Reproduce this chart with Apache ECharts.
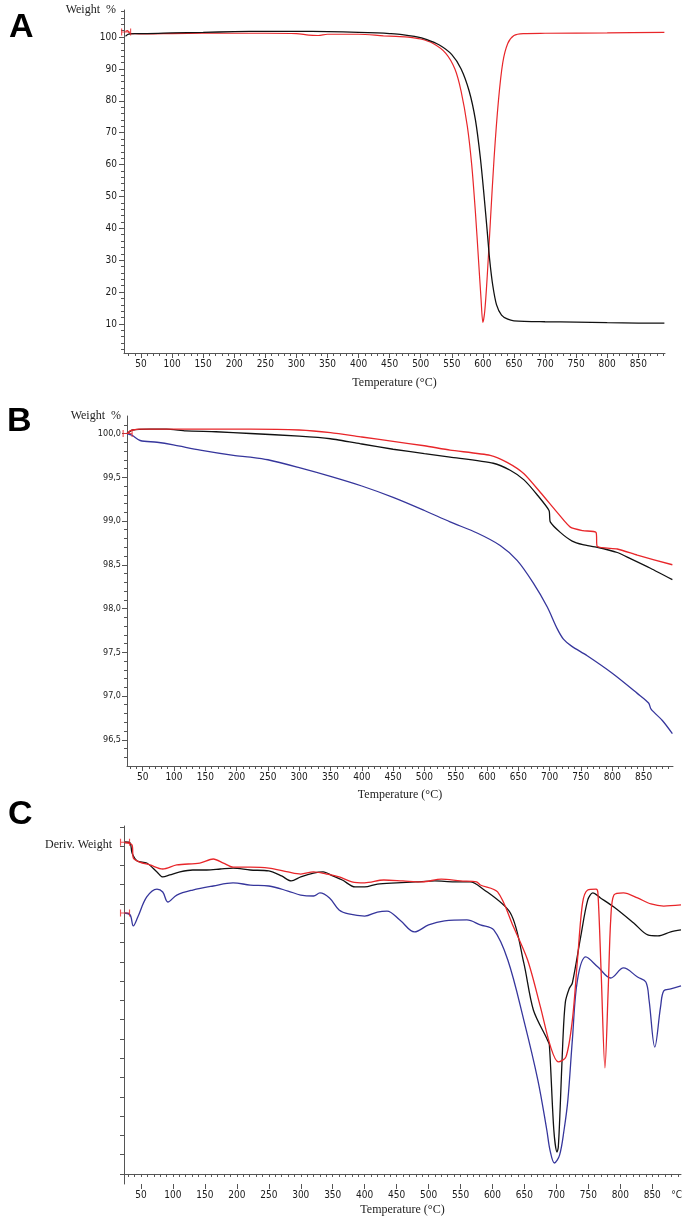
<!DOCTYPE html>
<html>
<head>
<meta charset="utf-8">
<script src="https://cdn.jsdelivr.net/npm/echarts@6/dist/echarts.min.js"></script>
<style>html,body{margin:0;padding:0;background:#fff}#c{width:685px;height:1218px}</style>
</head>
<body>
<div id="c"></div>
<script>
// ---------- Panel A : Weight % vs Temperature ----------
const A_RED_T = [25, 28, 32, 40, 60, 100, 150, 200, 250, 300, 320, 335, 350, 400, 440, 460, 480, 500, 520, 540, 555, 565, 575, 582, 588, 593, 597, 600, 603, 607, 612, 618, 625, 632, 640, 650, 665, 700, 800, 892];
const A_RED_W = [101.8, 102.0, 101.2, 101.1, 101.0, 101.1, 101.2, 101.2, 101.2, 101.1, 100.6, 100.5, 100.9, 100.9, 100.4, 100.2, 100.0, 99.4, 98.0, 95.0, 90.0, 83.0, 72.0, 60.0, 45.0, 30.0, 18.0, 10.5, 14.0, 25.0, 42.0, 62.0, 80.0, 92.0, 98.0, 100.5, 101.1, 101.2, 101.3, 101.5];
const A_BLK_T = [25, 30, 40, 60, 100, 150, 200, 250, 300, 350, 400, 430, 450, 470, 490, 510, 530, 550, 565, 578, 588, 596, 602, 607, 611, 616, 622, 630, 640, 650, 700, 750, 800, 850, 892];
const A_BLK_W = [100.3, 100.9, 101.1, 101.1, 101.3, 101.5, 101.7, 101.8, 101.8, 101.7, 101.5, 101.3, 101.1, 100.8, 100.2, 99.2, 97.5, 94.5, 90.0, 83.0, 74.0, 62.0, 50.0, 39.0, 30.0, 22.0, 16.0, 12.8, 11.5, 11.0, 10.7, 10.6, 10.4, 10.3, 10.3];
const A_MARKS_T = [26];
const A_MARKS_W = [101.6];
const A_Y_LABELS = [10, 20, 30, 40, 50, 60, 70, 80, 90, 100];

// ---------- Panel B : Weight % (zoomed) ----------
const B_RED_T = [25, 30, 34, 45, 70, 100, 150, 222, 300, 350, 400, 450, 500, 541, 605, 632, 659, 686, 713, 733, 753, 774, 776, 808, 840, 896];
const B_RED_W = [100.0, 100.03, 100.04, 100.05, 100.05, 100.05, 100.05, 100.05, 100.04, 100.01, 99.96, 99.91, 99.86, 99.81, 99.75, 99.67, 99.54, 99.32, 99.09, 98.93, 98.89, 98.87, 98.71, 98.68, 98.61, 98.50];
const B_BLK_T = [25, 34, 61, 88, 119, 167, 222, 300, 350, 400, 450, 500, 541, 610, 637, 659, 680, 699, 701, 717, 736, 753, 776, 808, 829, 861, 896];
const B_BLK_W = [100.0, 100.04, 100.05, 100.05, 100.03, 100.02, 100.0, 99.97, 99.94, 99.88, 99.82, 99.77, 99.73, 99.66, 99.58, 99.47, 99.30, 99.12, 98.99, 98.87, 98.77, 98.73, 98.70, 98.64, 98.57, 98.46, 98.33];
const B_BLU_T = [25, 33, 46, 73, 99, 142, 195, 222, 250, 300, 350, 400, 450, 500, 541, 585, 621, 648, 674, 696, 712, 722, 735, 760, 800, 840, 858, 862, 880, 896];
const B_BLU_W = [100.0, 99.98, 99.92, 99.90, 99.87, 99.81, 99.75, 99.73, 99.70, 99.61, 99.51, 99.40, 99.27, 99.12, 98.99, 98.86, 98.72, 98.55, 98.29, 98.02, 97.77, 97.65, 97.57, 97.46, 97.26, 97.03, 96.92, 96.85, 96.72, 96.57];
const B_MARKS_T = [26];
const B_MARKS_W = [100.0];
const B_Y_LABELS = [96.5, 97.0, 97.5, 98.0, 98.5, 99.0, 99.5, 100.0];

// ---------- Panel C : Derivative weight (arbitrary units) ----------
const C_RED_T = [25, 36, 38, 48, 64, 84, 106, 142, 163, 179, 194, 221, 250, 280, 300, 320, 340, 360, 380, 400, 430, 460, 490, 520, 550, 575, 581, 608, 633, 655, 675, 691, 703, 715, 725, 733, 741, 749, 762, 765, 770, 776, 781, 785, 790, 805, 827, 848, 868, 895];
const C_RED_D = [17.16, 17.06, 16.38, 16.17, 16.02, 15.81, 16.02, 16.12, 16.33, 16.12, 15.91, 15.91, 15.86, 15.66, 15.55, 15.66, 15.55, 15.40, 15.14, 15.09, 15.24, 15.19, 15.14, 15.29, 15.19, 15.14, 14.98, 14.62, 12.80, 11.09, 8.66, 6.58, 5.81, 6.07, 7.98, 11.09, 14.05, 14.72, 14.77, 14.57, 10.5, 5.50, 9.5, 13.17, 14.46, 14.57, 14.31, 14.00, 13.89, 13.95];
const C_BLK_T = [25, 33, 36, 44, 59, 75, 84, 95, 111, 131, 153, 174, 194, 221, 250, 270, 285, 300, 320, 335, 350, 365, 385, 400, 420, 450, 480, 510, 540, 565, 581, 628, 649, 664, 686, 689, 696, 701, 703, 706, 710, 714, 720, 725, 738, 749, 757, 769, 790, 821, 843, 859, 879, 895];
const C_BLK_D = [17.21, 17.16, 16.64, 16.23, 16.12, 15.66, 15.40, 15.50, 15.66, 15.76, 15.76, 15.81, 15.86, 15.76, 15.71, 15.45, 15.19, 15.40, 15.60, 15.66, 15.45, 15.24, 14.88, 14.88, 15.03, 15.09, 15.14, 15.19, 15.14, 15.14, 14.88, 13.53, 10.94, 8.50, 6.95, 6.69, 2.28, 1.14, 1.40, 3.50, 6.80, 8.90, 9.60, 9.90, 12.29, 14.20, 14.57, 14.31, 13.84, 13.01, 12.39, 12.34, 12.55, 12.65];
const C_BLU_T = [25, 33, 38, 45, 59, 75, 84, 92, 106, 131, 163, 194, 221, 250, 280, 300, 320, 330, 345, 360, 375, 400, 420, 435, 455, 478, 500, 525, 560, 581, 602, 624, 649, 671, 685, 690, 697, 705, 712, 718, 725, 733, 746, 765, 785, 805, 827, 840, 845, 854, 863, 868, 879, 895];
const C_BLU_D = [13.53, 13.43, 12.86, 13.32, 14.36, 14.77, 14.62, 14.10, 14.46, 14.72, 14.93, 15.09, 14.98, 14.93, 14.67, 14.46, 14.41, 14.57, 14.31, 13.69, 13.48, 13.37, 13.58, 13.63, 13.17, 12.55, 12.91, 13.12, 13.17, 12.91, 12.65, 11.09, 7.98, 4.87, 2.28, 1.24, 0.57, 0.98, 2.28, 3.84, 6.95, 10.06, 11.25, 10.73, 10.16, 10.68, 10.21, 9.95, 9.02, 6.58, 8.66, 9.49, 9.59, 9.75];
const C_MARKS_T = [25, 25];
const C_MARKS_D = [17.2, 13.53];

const X_LABELS = [50, 100, 150, 200, 250, 300, 350, 400, 450, 500, 550, 600, 650, 700, 750, 800, 850];

// ---------- helpers ----------
function zip(t, v) { return t.map((x, i) => [x, v[i]]); }
function range(a, b, s) { const r = []; const n = Math.round((b - a) / s); for (let i = 0; i <= n; i++) r.push(Math.round((a + i * s) * 1000) / 1000); return r; }

const RED = '#e8262a', BLK = '#111111', BLU = '#36369c';
const AX = '#555';
const TICKFONT = { fontFamily: '"DejaVu Sans Condensed","DejaVu Sans",sans-serif', fontSize: 10, color: '#1a1a1a' };
const SERIF = 'Liberation Serif, "Times New Roman", serif';
const MARK = 'path://M0 0V10M0 5H10M10 0V10';

function xMain(grid, min, max, name, gap, unitEnd) {
  const labs = unitEnd ? X_LABELS.concat([888]) : X_LABELS;
  return {
    type: 'value', gridIndex: grid, min: min, max: max, position: 'bottom',
    axisLine: { show: true, lineStyle: { color: AX, width: 1 } },
    axisTick: { show: true, length: 3, lineStyle: { color: AX }, customValues: range(30, 890, 10).filter(v => v > min && v < max) },
    axisLabel: { show: true, margin: 6, customValues: labs, formatter: v => (v > 860 ? '°C' : String(v)), ...TICKFONT },
    splitLine: { show: false },
    name: name, nameLocation: 'middle', nameGap: gap,
    nameTextStyle: { fontFamily: SERIF, fontSize: 12, color: '#222', verticalAlign: 'middle' }
  };
}
function xMajor(grid, min, max) {
  return {
    type: 'value', gridIndex: grid, min: min, max: max, position: 'bottom',
    axisLine: { show: false }, axisLabel: { show: false }, splitLine: { show: false },
    axisTick: { show: true, length: 5, lineStyle: { color: AX }, customValues: X_LABELS }
  };
}
function marks(xi, yi, t, v) {
  return { type: 'scatter', xAxisIndex: xi, yAxisIndex: yi, data: zip(t, v), symbol: MARK, symbolSize: [9, 7], itemStyle: { color: 'none', borderColor: RED, borderWidth: 1 }, silent: true, z: 5 };
}

const option = {
  animation: false,
  backgroundColor: '#fff',
  title: [
    { text: 'A', left: 4, top: 6, textStyle: { fontFamily: 'Liberation Sans, Arial', fontWeight: 'bold', fontSize: 34, color: '#000' } },
    { text: 'B', left: 2, top: 400, textStyle: { fontFamily: 'Liberation Sans, Arial', fontWeight: 'bold', fontSize: 34, color: '#000' } },
    { text: 'C', left: 3, top: 793, textStyle: { fontFamily: 'Liberation Sans, Arial', fontWeight: 'bold', fontSize: 34, color: '#000' } }
  ],
  grid: [
    { left: 124, top: 10, width: 541, height: 343 },
    { left: 127, top: 416, width: 546, height: 350 },
    { left: 124, top: 826, width: 557, height: 358 }
  ],
  xAxis: [
    xMain(0, 22.6, 893, 'Temperature (°C)', 30, false),
    xMajor(0, 22.6, 893),
    xMain(1, 25, 897, 'Temperature (°C)', 29, false),
    xMajor(1, 25, 897),
    xMain(2, 23.4, 895, 'Temperature (°C)', 26, true),
    xMajor(2, 23.4, 895)
  ],
  yAxis: [
    {
      type: 'value', gridIndex: 0, min: 0.9, max: 108.5, position: 'left',
      axisLine: { show: true, lineStyle: { color: AX } },
      axisTick: { show: true, length: 3, lineStyle: { color: AX }, customValues: range(2, 108, 2) },
      axisLabel: { show: true, margin: 7, customValues: A_Y_LABELS, ...TICKFONT },
      splitLine: { show: false },
      name: 'Weight  %', nameLocation: 'end', nameGap: 0,
      nameTextStyle: { fontFamily: SERIF, fontSize: 12, color: '#222', align: 'right', verticalAlign: 'middle', padding: [0, 8, 0, 0] }
    },
    {
      type: 'value', gridIndex: 0, min: 0.9, max: 108.5, position: 'left',
      axisLine: { show: false }, axisLabel: { show: false }, splitLine: { show: false },
      axisTick: { show: true, length: 5, lineStyle: { color: AX }, customValues: A_Y_LABELS }
    },
    {
      type: 'value', gridIndex: 1, min: 96.2, max: 100.2, position: 'left',
      axisLine: { show: true, lineStyle: { color: AX } },
      axisTick: { show: true, length: 3, lineStyle: { color: AX }, customValues: range(96.3, 100.1, 0.1) },
      axisLabel: { show: true, margin: 6, customValues: B_Y_LABELS, formatter: v => v.toFixed(1).replace('.', ','), ...TICKFONT, fontSize: 9 },
      splitLine: { show: false },
      name: 'Weight  %', nameLocation: 'end', nameGap: 0,
      nameTextStyle: { fontFamily: SERIF, fontSize: 12, color: '#222', align: 'right', verticalAlign: 'middle', padding: [0, 6, 0, 0] }
    },
    {
      type: 'value', gridIndex: 1, min: 96.2, max: 100.2, position: 'left',
      axisLine: { show: false }, axisLabel: { show: false }, splitLine: { show: false },
      axisTick: { show: true, length: 5, lineStyle: { color: AX }, customValues: B_Y_LABELS }
    },
    {
      type: 'value', gridIndex: 2, min: -0.52, max: 18.04, position: 'left',
      axisLine: { show: true, lineStyle: { color: AX } },
      axisTick: { show: true, length: 4, lineStyle: { color: AX }, customValues: range(0, 18, 1) },
      axisLabel: { show: false },
      splitLine: { show: false },
      name: 'Deriv. Weight', nameLocation: 'end', nameGap: -19,
      nameTextStyle: { fontFamily: SERIF, fontSize: 12, color: '#222', align: 'right', verticalAlign: 'middle', padding: [0, 12, 0, 0] }
    }
  ],
  series: [
    { type: 'line', xAxisIndex: 0, yAxisIndex: 0, data: zip(A_RED_T, A_RED_W), showSymbol: false, smooth: 0.3, lineStyle: { color: RED, width: 1.2 }, z: 3 },
    { type: 'line', xAxisIndex: 0, yAxisIndex: 0, data: zip(A_BLK_T, A_BLK_W), showSymbol: false, smooth: 0.3, lineStyle: { color: BLK, width: 1.3 }, z: 4 },
    marks(0, 0, A_MARKS_T, A_MARKS_W),
    { type: 'line', xAxisIndex: 2, yAxisIndex: 2, data: zip(B_BLU_T, B_BLU_W), showSymbol: false, smooth: 0.3, lineStyle: { color: BLU, width: 1.3 } },
    { type: 'line', xAxisIndex: 2, yAxisIndex: 2, data: zip(B_BLK_T, B_BLK_W), showSymbol: false, smooth: 0.2, lineStyle: { color: BLK, width: 1.3 } },
    { type: 'line', xAxisIndex: 2, yAxisIndex: 2, data: zip(B_RED_T, B_RED_W), showSymbol: false, smooth: 0.2, lineStyle: { color: RED, width: 1.3 } },
    marks(2, 2, B_MARKS_T, B_MARKS_W),
    { type: 'line', xAxisIndex: 4, yAxisIndex: 4, data: zip(C_BLU_T, C_BLU_D), showSymbol: false, smooth: 0.35, lineStyle: { color: BLU, width: 1.3 } },
    { type: 'line', xAxisIndex: 4, yAxisIndex: 4, data: zip(C_BLK_T, C_BLK_D), showSymbol: false, smooth: 0.3, lineStyle: { color: BLK, width: 1.3 } },
    { type: 'line', xAxisIndex: 4, yAxisIndex: 4, data: zip(C_RED_T, C_RED_D), showSymbol: false, smooth: 0.3, lineStyle: { color: RED, width: 1.3 } },
    marks(4, 4, C_MARKS_T, C_MARKS_D)
  ]
};

const chart = echarts.init(document.getElementById('c'), null, { renderer: 'canvas' });
chart.setOption(option);
</script>
</body>
</html>
